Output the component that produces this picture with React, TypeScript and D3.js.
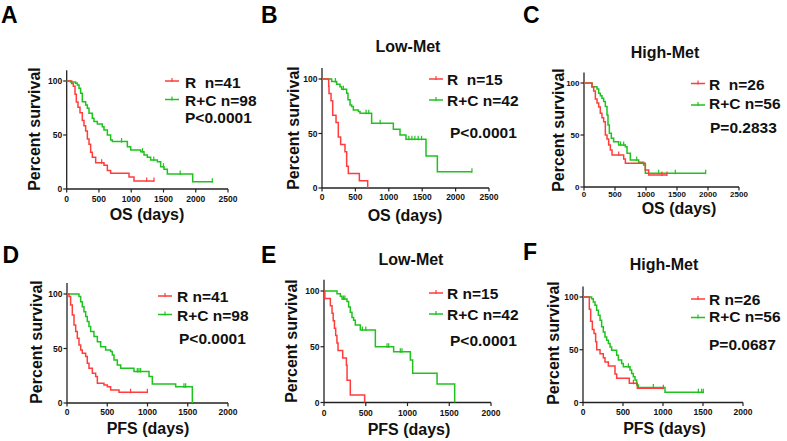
import React from 'react';
import * as d3 from 'd3';

// ---------- DATA (days, percent survival) ----------
const A_R_t = [0, 78, 103, 129, 149, 175, 206, 242, 268, 294, 320, 346, 371, 397, 449, 578, 630, 681, 966, 1043];
const A_R_s = [100, 97.6, 95.1, 87.8, 80.5, 75.6, 70.7, 63.4, 58.5, 53.7, 46.3, 41.5, 34.1, 29.3, 24.4, 22.0, 17.1, 14.6, 11.0, 7.3];
const A_R_end = 1353;
const A_R_cens = [542, 1240, 1353];
const A_RC_t = [0, 60, 139, 165, 191, 216, 242, 294, 320, 346, 397, 423, 475, 552, 578, 630, 681, 707, 940, 992, 1147, 1198, 1250, 1301, 1405, 1456, 1508, 1560, 1953];
const A_RC_s = [100, 99, 97.9, 96.3, 93.2, 88.6, 80.9, 77.8, 74.7, 70.1, 65.5, 62.4, 60.2, 57.7, 54.6, 50.0, 45.4, 43.9, 39.2, 36.1, 34.6, 31.5, 29.4, 26.9, 25.3, 20.7, 18.2, 13.9, 6.8];
const A_RC_end = 2257;
const A_RC_cens = [850, 1175, 1350, 1500, 1759, 2257];

const B_R_t = [0, 100, 105, 135, 160, 210, 244, 279, 344, 369, 394, 559, 684];
const B_R_s = [100, 93.3, 86.7, 80, 66.7, 60, 46.7, 40, 33.3, 20, 13.3, 6.7, 0];
const B_R_end = 684;
const B_R_cens: number[] = [];
const B_RC_t = [0, 145, 220, 269, 294, 369, 389, 420, 444, 469, 544, 569, 743, 1068, 1168, 1257, 1557, 1727];
const B_RC_s = [100, 97.6, 95.2, 92.9, 90.5, 86.9, 81.0, 76.2, 74.7, 71.6, 70.1, 68.5, 59.4, 53.9, 48.7, 44.7, 29.4, 15];
const B_RC_end = 2245;
const B_RC_cens = [200, 320, 660, 700, 870, 1300, 1345, 1390, 1440, 1490, 2245];

const C_R_t = [0, 129, 156, 183, 210, 237, 263, 290, 317, 344, 371, 398, 425, 452, 640, 667, 989, 1043];
const C_R_s = [100, 96.2, 92.3, 84.6, 80.8, 76.9, 70.8, 66.7, 62.8, 50, 46.2, 40.4, 35.6, 30.8, 26.9, 22.8, 16.4, 11.5];
const C_R_end = 1339;
const C_R_cens = [560, 1258, 1339];
const C_RC_t = [0, 129, 210, 237, 263, 290, 317, 344, 371, 387, 409, 441, 478, 559, 667, 694, 747, 882, 962, 989];
const C_RC_s = [100, 96.5, 94.2, 90.1, 87.8, 85.3, 82.1, 77.3, 69.2, 59.6, 51.6, 46.8, 43.6, 40.4, 38.8, 32.4, 26.0, 23.7, 21.2, 13.2];
const C_RC_end = 1963;
const C_RC_cens = [590, 640, 850, 1204, 1473, 1963];

const D_R_t = [0, 25, 45, 66, 87, 108, 128, 149, 170, 190, 232, 252, 273, 315, 356, 377, 459, 501, 542, 646];
const D_R_s = [100, 97.6, 90, 80.8, 71.6, 65.5, 59.4, 53.3, 48.7, 45.6, 42.6, 36.4, 31.8, 27.3, 24.2, 18.1, 16.6, 15, 12, 9.8];
const D_R_end = 998;
const D_R_cens = [790, 998];
const D_RC_t = [0, 149, 170, 190, 211, 232, 252, 273, 294, 335, 377, 418, 480, 542, 563, 584, 625, 667, 832, 1019, 1060, 1350, 1557];
const D_RC_s = [100, 97.6, 93, 88.4, 83.8, 79.3, 74.7, 70.1, 65.5, 60.9, 56.3, 51.7, 48.7, 47.2, 44.1, 39.5, 34.9, 31.8, 28.8, 24.2, 17.5, 15, 0];
const D_RC_end = 1557;
const D_RC_cens = [873, 894, 915, 1453, 1474];

const E_R_t = [0, 10, 76, 96, 110, 125, 140, 155, 168, 224, 268, 276, 315, 487];
const E_R_s = [100, 93.3, 86.7, 80, 73.3, 66.7, 60, 53.3, 46.7, 40, 33.3, 20, 6.7, 0];
const E_R_end = 487;
const E_R_cens: number[] = [];
const E_RC_t = [0, 156, 196, 216, 275, 295, 315, 335, 355, 375, 435, 615, 834, 1034, 1062, 1354, 1565];
const E_RC_s = [100, 97.6, 95.2, 92.9, 90.5, 85.7, 81.0, 76.2, 73.8, 69.5, 65.0, 50.1, 45.6, 38.1, 26.2, 16.6, 0];
const E_RC_end = 1565;
const E_RC_cens = [235, 250, 460, 500, 755, 775, 914, 934];

const F_R_t = [0, 79, 96, 117, 138, 158, 171, 213, 254, 275, 317, 400, 421, 579, 679];
const F_R_s = [100, 88.5, 76.9, 69.2, 65.4, 57.7, 50, 46.2, 42.3, 38.5, 34.6, 26.9, 23.1, 18.2, 13.6];
const F_R_end = 1004;
const F_R_cens = [630, 1004];
const F_RC_t = [0, 108, 129, 150, 171, 192, 213, 233, 254, 275, 296, 317, 338, 358, 421, 442, 483, 504, 588, 608, 629, 650, 671, 692, 1025];
const F_RC_s = [100, 98.4, 95.3, 92.1, 87.4, 82.7, 78.0, 71.7, 66.9, 62.2, 59.0, 55.9, 52.7, 49.6, 44.9, 40.2, 37.0, 33.9, 30.7, 27.6, 24.4, 21.3, 16.5, 14.3, 9.6];
const F_RC_end = 1504;
const F_RC_cens = [567, 879, 1442, 1483, 1504];

const OS_TICKS = [0, 500, 1000, 1500, 2000, 2500];
const PFS_TICKS = [0, 500, 1000, 1500, 2000];
const Y_TICKS = [0, 50, 100];

// ---------- STYLE ----------
const RED = '#ff3d3d';
const GREEN = '#1fc21f';
const AXIS = '#222';
const FONT = '"Liberation Sans", Arial, Helvetica, sans-serif';

type Curve = { t: number[]; s: number[]; end: number; cens: number[] };
const mk = (t: number[], s: number[], end: number, cens: number[]): Curve => ({ t, s, end, cens });

interface PanelCfg {
  letter: string; lx: number; ly: number;
  title?: string; tx?: number; ty?: number;
  xMax: number; ticks: number[];
  x0: number; x1: number; y0: number; y100: number; tickOff: number; tickFs: number;
  xlab: string; xlx: number; xly: number;
  ylx: number; yly: number;
  legX: number; legTx: number; legY1: number; legY2: number; legB1: number; legB2: number;
  pX: number; pY: number; pText: string;
  rLabel: string; rcLabel: string;
  R: Curve; RC: Curve;
}

const panels: PanelCfg[] = [
  { letter: 'A', lx: 1, ly: 23, xMax: 2500, ticks: OS_TICKS, x0: 66.7, x1: 228, y0: 189, y100: 81, tickOff: 13, tickFs: 8.5,
    xlab: 'OS (days)', xlx: 147, xly: 220, ylx: 40, yly: 129,
    legX: 165, legTx: 185, legY1: 81, legY2: 99.5, legB1: 88, legB2: 106,
    pX: 185, pY: 123, pText: 'P<0.0001', rLabel: 'R  n=41', rcLabel: 'R+C n=98',
    R: mk(A_R_t, A_R_s, A_R_end, A_R_cens), RC: mk(A_RC_t, A_RC_s, A_RC_end, A_RC_cens) },
  { letter: 'B', lx: 261, ly: 23, title: 'Low-Met', tx: 408, ty: 52, xMax: 2500, ticks: OS_TICKS, x0: 322, x1: 489, y0: 188, y100: 79, tickOff: 11.5, tickFs: 8.5,
    xlab: 'OS (days)', xlx: 405, xly: 221, ylx: 298.5, yly: 128,
    legX: 429, legTx: 447, legY1: 79, legY2: 100, legB1: 85, legB2: 106,
    pX: 450, pY: 138, pText: 'P<0.0001', rLabel: 'R  n=15', rcLabel: 'R+C n=42',
    R: mk(B_R_t, B_R_s, B_R_end, B_R_cens), RC: mk(B_RC_t, B_RC_s, B_RC_end, B_RC_cens) },
  { letter: 'C', lx: 523, ly: 23, title: 'High-Met', tx: 665, ty: 58, xMax: 2500, ticks: OS_TICKS, x0: 584, x1: 739, y0: 187, y100: 83, tickOff: 10, tickFs: 8,
    xlab: 'OS (days)', xlx: 679, xly: 213.5, ylx: 564, yly: 130,
    legX: 691, legTx: 709, legY1: 83.5, legY2: 105, legB1: 90, legB2: 109,
    pX: 710, pY: 133, pText: 'P=0.2833', rLabel: 'R  n=26', rcLabel: 'R+C n=56',
    R: mk(C_R_t, C_R_s, C_R_end, C_R_cens), RC: mk(C_RC_t, C_RC_s, C_RC_end, C_RC_cens) },
  { letter: 'D', lx: 2.5, ly: 263, xMax: 2000, ticks: PFS_TICKS, x0: 67, x1: 228, y0: 403, y100: 294, tickOff: 11.5, tickFs: 8.5,
    xlab: 'PFS (days)', xlx: 148, xly: 433.5, ylx: 41.5, yly: 342,
    legX: 158, legTx: 177, legY1: 296, legY2: 314.5, legB1: 302, legB2: 320.5,
    pX: 179, pY: 343.5, pText: 'P<0.0001', rLabel: 'R n=41', rcLabel: 'R+C n=98',
    R: mk(D_R_t, D_R_s, D_R_end, D_R_cens), RC: mk(D_RC_t, D_RC_s, D_RC_end, D_RC_cens) },
  { letter: 'E', lx: 261, ly: 263, title: 'Low-Met', tx: 411, ty: 265, xMax: 2000, ticks: PFS_TICKS, x0: 324, x1: 491, y0: 402.5, y100: 291, tickOff: 13, tickFs: 8.5,
    xlab: 'PFS (days)', xlx: 409, xly: 435, ylx: 297, yly: 341,
    legX: 429, legTx: 447, legY1: 293, legY2: 314, legB1: 298.5, legB2: 319.5,
    pX: 450, pY: 346, pText: 'P<0.0001', rLabel: 'R n=15', rcLabel: 'R+C n=42',
    R: mk(E_R_t, E_R_s, E_R_end, E_R_cens), RC: mk(E_RC_t, E_RC_s, E_RC_end, E_RC_cens) },
  { letter: 'F', lx: 523, ly: 260, title: 'High-Met', tx: 664, ty: 270, xMax: 2000, ticks: PFS_TICKS, x0: 583, x1: 743, y0: 402.5, y100: 297, tickOff: 12.5, tickFs: 8.5,
    xlab: 'PFS (days)', xlx: 664.5, xly: 433.5, ylx: 559, yly: 343,
    legX: 691, legTx: 709, legY1: 299, legY2: 317.5, legB1: 304.5, legB2: 322,
    pX: 709, pY: 350, pText: 'P=0.0687', rLabel: 'R n=26', rcLabel: 'R+C n=56',
    R: mk(F_R_t, F_R_s, F_R_end, F_R_cens), RC: mk(F_RC_t, F_RC_s, F_RC_end, F_RC_cens) },
];

function valueAt(c: Curve, time: number): number {
  let v = c.s[0];
  for (let i = 0; i < c.t.length; i++) if (c.t[i] <= time) v = c.s[i];
  return v;
}

function CurveMarks({ c, x, y, color }: { c: Curve; x: d3.ScaleLinear<number, number>; y: d3.ScaleLinear<number, number>; color: string }) {
  const pts: [number, number][] = c.t.map((t, i) => [t, c.s[i]] as [number, number]);
  pts.push([c.end, c.s[c.s.length - 1]]);
  const line = d3.line<[number, number]>().x(d => x(d[0])).y(d => y(d[1])).curve(d3.curveStepAfter);
  return (
    <g>
      <path d={line(pts) || ''} fill="none" stroke={color} strokeWidth={1.5} />
      {c.cens.map((ct, i) => {
        const cx = x(ct), cy = y(valueAt(c, ct));
        return <line key={i} x1={cx} x2={cx} y1={cy - 3.5} y2={cy + 1} stroke={color} strokeWidth={1.2} />;
      })}
    </g>
  );
}

function Panel({ p }: { p: PanelCfg }) {
  const x = d3.scaleLinear().domain([0, p.xMax]).range([p.x0, p.x1]);
  const y = d3.scaleLinear().domain([0, 100]).range([p.y0, p.y100]);
  const bold = { fontFamily: FONT, fontWeight: 700 } as const;
  return (
    <g>
      <text x={p.lx} y={p.ly} fontSize={23} {...bold} fill="#000">{p.letter}</text>
      {p.title && <text x={p.tx} y={p.ty} fontSize={16} textAnchor="middle" {...bold} fill="#111">{p.title}</text>}
      {/* axes */}
      <line x1={p.x0} x2={p.x0} y1={y(0)} y2={y(110)} stroke={AXIS} strokeWidth={1.3} />
      <line x1={p.x0} x2={p.x1} y1={y(0)} y2={y(0)} stroke={AXIS} strokeWidth={1.3} />
      {Y_TICKS.map(v => (
        <g key={v}>
          <line x1={p.x0 - 3.5} x2={p.x0} y1={y(v)} y2={y(v)} stroke={AXIS} strokeWidth={1.2} />
          <text x={p.x0 - 4.5} y={y(v) + 3} fontSize={p.tickFs} textAnchor="end" {...bold} fill="#111">{v}</text>
        </g>
      ))}
      {p.ticks.map(v => (
        <g key={v}>
          <line x1={x(v)} x2={x(v)} y1={y(0)} y2={y(0) + 3.5} stroke={AXIS} strokeWidth={1.2} />
          <text x={x(v)} y={y(0) + p.tickOff} fontSize={p.tickFs} textAnchor="middle" {...bold} fill="#111">{v}</text>
        </g>
      ))}
      <text x={p.xlx} y={p.xly} fontSize={16} textAnchor="middle" {...bold} fill="#111">{p.xlab}</text>
      <text transform={`translate(${p.ylx},${p.yly}) rotate(-90)`} fontSize={16} textAnchor="middle" {...bold} fill="#111">Percent survival</text>
      {/* curves */}
      <CurveMarks c={p.RC} x={x} y={y} color={GREEN} />
      <CurveMarks c={p.R} x={x} y={y} color={RED} />
      {/* legend */}
      <line x1={p.legX} x2={p.legX + 14} y1={p.legY1} y2={p.legY1} stroke={RED} strokeWidth={1.5} />
      <line x1={p.legX + 7} x2={p.legX + 7} y1={p.legY1 - 3} y2={p.legY1 + 1} stroke={RED} strokeWidth={1.2} />
      <text x={p.legTx} y={p.legB1} fontSize={15.5} {...bold} fill="#111" style={{ whiteSpace: 'pre' }}>{p.rLabel}</text>
      <line x1={p.legX} x2={p.legX + 14} y1={p.legY2} y2={p.legY2} stroke={GREEN} strokeWidth={1.5} />
      <line x1={p.legX + 7} x2={p.legX + 7} y1={p.legY2 - 3} y2={p.legY2 + 1} stroke={GREEN} strokeWidth={1.2} />
      <text x={p.legTx} y={p.legB2} fontSize={15.5} {...bold} fill="#111" style={{ whiteSpace: 'pre' }}>{p.rcLabel}</text>
      <text x={p.pX} y={p.pY} fontSize={15.5} {...bold} fill="#111">{p.pText}</text>
    </g>
  );
}

export default function App() {
  return (
    <svg width={787} height={441} viewBox="0 0 787 441"
      style={{ position: 'absolute', left: 0, top: 0, background: '#fff', display: 'block' }}>
      <rect x={0} y={0} width={787} height={441} fill="#fff" />
      {panels.map(p => <Panel key={p.letter} p={p} />)}
    </svg>
  );
}
